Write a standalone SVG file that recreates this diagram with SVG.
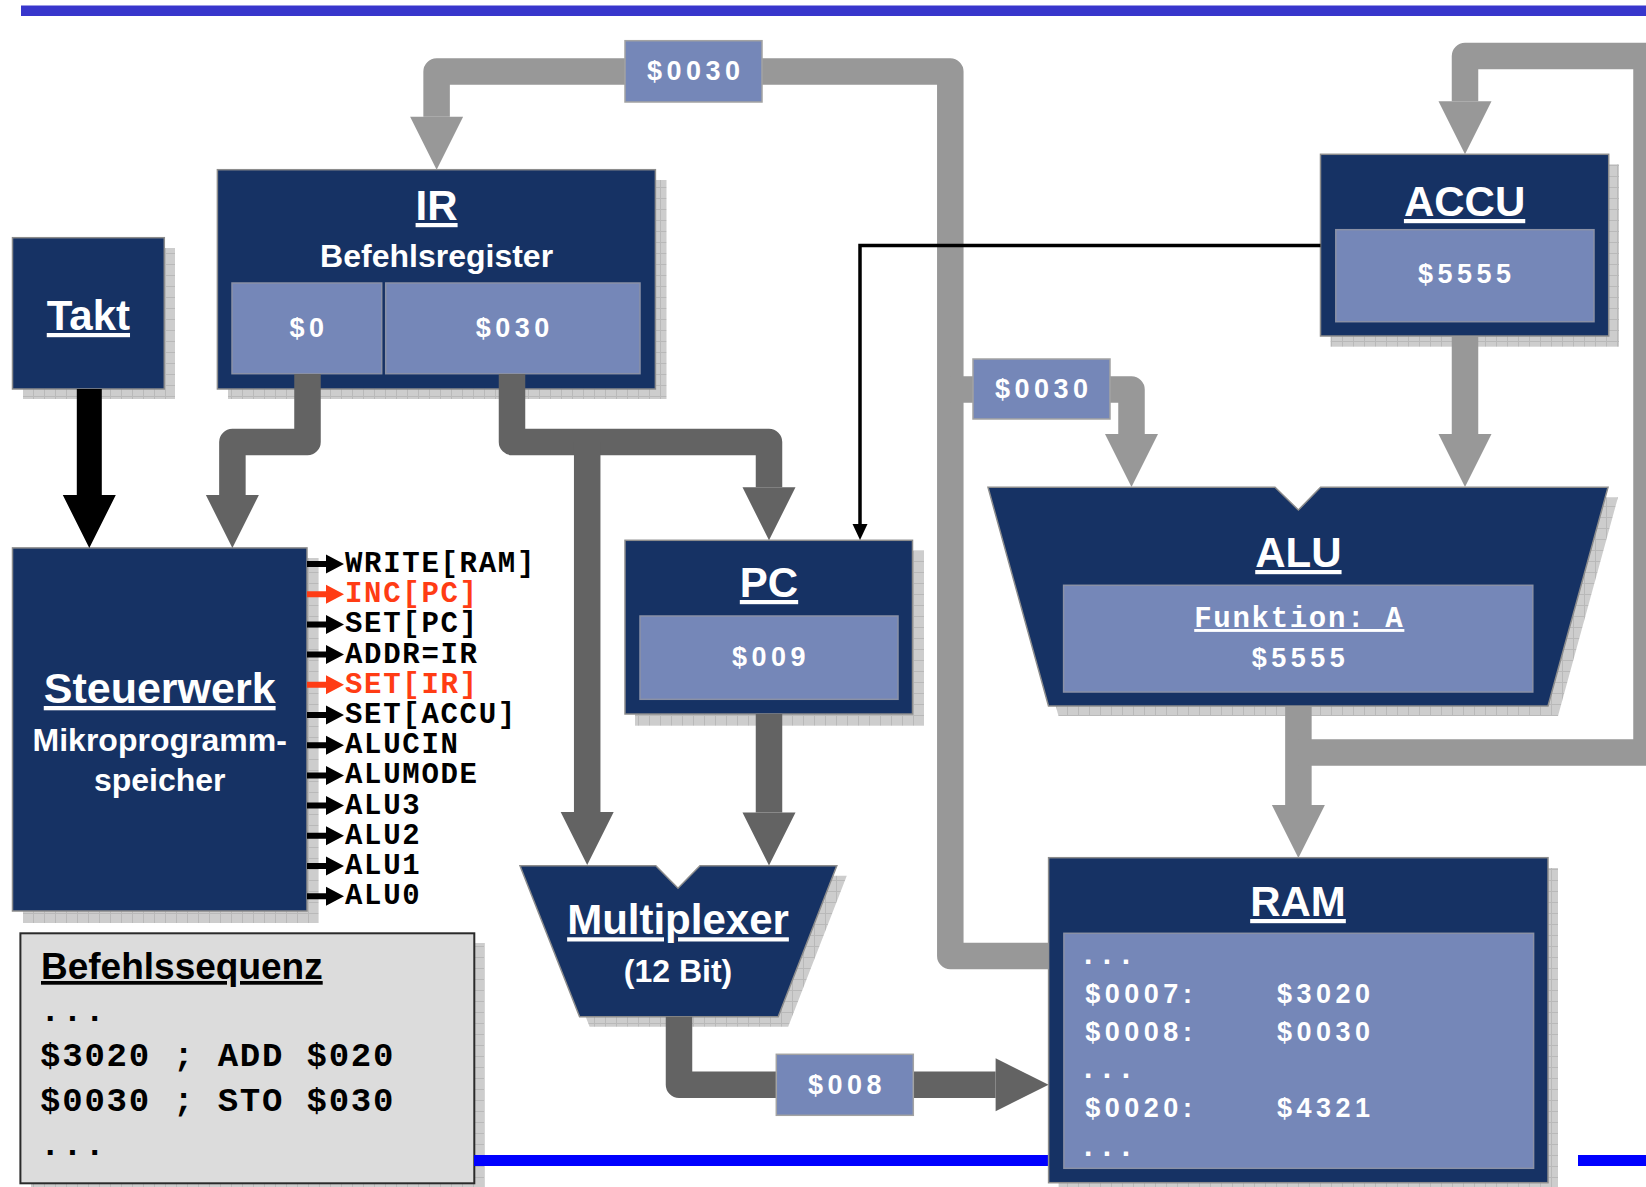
<svg xmlns="http://www.w3.org/2000/svg" width="1646" height="1187" viewBox="0 0 1646 1187">
  <defs>
    <!-- fine grid used for the drop shadows -->
    <pattern id="grid" width="11" height="11" patternUnits="userSpaceOnUse">
      <rect width="11" height="11" fill="#cdcdcd"/>
      <path d="M0,0.5H11M0.5,0V11" stroke="#b9b9b9" stroke-width="1" fill="none"/>
    </pattern>
    <marker id="headDark" markerUnits="userSpaceOnUse" viewBox="0 -27 54 54" refX="0" refY="0" markerWidth="54" markerHeight="54" orient="auto" overflow="visible">
      <path d="M0,-26.5L53,0L0,26.5Z" fill="#636363"/>
    </marker>
    <marker id="headLight" markerUnits="userSpaceOnUse" viewBox="0 -27 54 54" refX="0" refY="0" markerWidth="54" markerHeight="54" orient="auto" overflow="visible">
      <path d="M0,-26.5L53,0L0,26.5Z" fill="#989898"/>
    </marker>
    <marker id="headThin" markerUnits="userSpaceOnUse" viewBox="0 -8 17 16" refX="0" refY="0" markerWidth="17" markerHeight="16" orient="auto" overflow="visible">
      <path d="M0,-7.5L16,0L0,7.5Z" fill="#000"/>
    </marker>
    <!-- control signal arrow -->
    <path id="sig" d="M0,-3H19V-9.5L37,0L19,9.5V3H0Z"/>
  </defs>
  <style>
    .navy { fill:#163264; stroke:#8c8c8c; stroke-width:1.5; }
    .inner { fill:#7587b8; stroke:#8a91a6; stroke-width:1.5; }
    .shadow { fill:url(#grid); }
    .title { font-family:"Liberation Sans", Arial, sans-serif; font-weight:bold; font-size:42px; fill:#fff; text-anchor:middle; text-decoration:underline; }
    .sub { font-family:"Liberation Sans", Arial, sans-serif; font-weight:bold; font-size:32px; fill:#fff; text-anchor:middle; }
    .val { font-family:"Liberation Sans", Arial, sans-serif; font-weight:bold; font-size:27px; fill:#fff; letter-spacing:4.5px; }
    .mid { text-anchor:middle; }
    .dots { font-family:"Liberation Sans", Arial, sans-serif; font-weight:bold; font-size:30px; fill:#fff; letter-spacing:10.5px; }
    .sig { font-family:"Liberation Mono", "Courier New", monospace; font-weight:bold; font-size:29px; letter-spacing:1.7px; }
    .blk { fill:#000; }
    .red { fill:#ff3c14; }
    .code { font-family:"Liberation Mono", "Courier New", monospace; font-weight:bold; font-size:34px; letter-spacing:1.8px; fill:#000; }
    .busD { fill:none; stroke:#636363; stroke-width:26.5; stroke-linejoin:round; }
    .busL { fill:none; stroke:#989898; stroke-width:26.5; stroke-linejoin:round; }
    .lbl { fill:#7587b8; stroke:#a3a3a3; stroke-width:1.5; }
  </style>

  <!-- header rule -->
  <rect x="21" y="5.5" width="1625" height="10.5" fill="#3836cc"/>

  <g id="takt">
    <rect class="shadow" x="23" y="248" width="152" height="151"/>
    <rect class="navy" x="12.5" y="237.7" width="151.8" height="151.3"/>
    <text class="title" x="88.4" y="330">Takt</text>
  </g>

  <g id="ir">
    <rect class="shadow" x="228" y="180" width="438.5" height="219"/>
    <rect class="navy" x="217.4" y="169.7" width="438" height="219.3"/>
    <text class="title" x="436.6" y="220">IR</text>
    <text class="sub" x="436.6" y="267">Befehlsregister</text>
    <rect class="inner" x="232" y="283" width="149.7" height="90.7"/>
    <rect class="inner" x="385.7" y="283" width="254.3" height="90.7"/>
    <text class="val mid" x="309" y="337.3">$0</text>
    <text class="val mid" x="514.8" y="337.3">$030</text>
  </g>

  <g id="steuerwerk">
    <rect class="shadow" x="23" y="558" width="295.6" height="365"/>
    <rect class="navy" x="12.5" y="547.9" width="294.5" height="363.1"/>
    <text class="title" x="159.7" y="703" style="font-size:43px">Steuerwerk</text>
    <text class="sub" x="159.7" y="751.4">Mikroprogramm-</text>
    <text class="sub" x="159.7" y="790.7">speicher</text>
    <!-- control outputs -->
    <use href="#sig" class="blk" x="307" y="564"/>
    <use href="#sig" class="red" x="307" y="594.2"/>
    <use href="#sig" class="blk" x="307" y="624.4"/>
    <use href="#sig" class="blk" x="307" y="654.6"/>
    <use href="#sig" class="red" x="307" y="684.8"/>
    <use href="#sig" class="blk" x="307" y="715"/>
    <use href="#sig" class="blk" x="307" y="745.2"/>
    <use href="#sig" class="blk" x="307" y="775.4"/>
    <use href="#sig" class="blk" x="307" y="805.6"/>
    <use href="#sig" class="blk" x="307" y="835.8"/>
    <use href="#sig" class="blk" x="307" y="866"/>
    <use href="#sig" class="blk" x="307" y="896.2"/>
    <text class="sig blk" x="345" y="572">WRITE[RAM]</text>
    <text class="sig red" x="345" y="602.2">INC[PC]</text>
    <text class="sig blk" x="345" y="632.4">SET[PC]</text>
    <text class="sig blk" x="345" y="662.6">ADDR=IR</text>
    <text class="sig red" x="345" y="692.8">SET[IR]</text>
    <text class="sig blk" x="345" y="723">SET[ACCU]</text>
    <text class="sig blk" x="345" y="753.2">ALUCIN</text>
    <text class="sig blk" x="345" y="783.4">ALUMODE</text>
    <text class="sig blk" x="345" y="813.6">ALU3</text>
    <text class="sig blk" x="345" y="843.8">ALU2</text>
    <text class="sig blk" x="345" y="874">ALU1</text>
    <text class="sig blk" x="345" y="904.2">ALU0</text>
  </g>

  <g id="befehlssequenz">
    <rect class="shadow" x="31" y="943" width="453.6" height="250"/>
    <rect x="20.4" y="933.3" width="453.9" height="250" fill="#dcdcdc" stroke="#2a2a2a" stroke-width="2"/>
    <text x="41" y="979" style="font-family:'Liberation Sans', Arial, sans-serif; font-weight:bold; font-size:37px; fill:#000; text-decoration:underline">Befehlssequenz</text>
    <text class="code" x="40" y="1021">...</text>
    <text class="code" x="40" y="1066">$3020 ; ADD $020</text>
    <text class="code" x="40" y="1111">$0030 ; STO $030</text>
    <text class="code" x="40" y="1155">...</text>
  </g>

  <!-- footer rule -->
  <rect x="474" y="1155" width="580" height="11" fill="#0000ff"/>
  <rect x="1578" y="1155" width="68" height="11" fill="#0000ff"/>

  <g id="pc">
    <rect class="shadow" x="635" y="550.5" width="289" height="175.2"/>
    <rect class="navy" x="625" y="540.3" width="287.5" height="173.7"/>
    <text class="title" x="769" y="597">PC</text>
    <rect class="inner" x="640" y="616" width="258" height="83.3"/>
    <text class="val mid" x="771" y="665.7">$009</text>
  </g>

  <g id="multiplexer">
    <polygon class="shadow" points="530,875.7 665.8,875.7 688,898.3 710,875.7 846.8,875.7 788.2,1026.7 589.6,1026.7"/>
    <polygon class="navy" points="520,865.7 655.8,865.7 678,888.3 700,865.7 836.8,865.7 778.2,1016.7 579.6,1016.7"/>
    <text class="title" x="678" y="934.3">Multiplexer</text>
    <text class="sub" x="678" y="981.7">(12 Bit)</text>
  </g>

  <g id="accu">
    <rect class="shadow" x="1330.5" y="164.3" width="288.5" height="182.4"/>
    <rect class="navy" x="1320.5" y="154.3" width="288.2" height="181.7"/>
    <text class="title" x="1464.6" y="216">ACCU</text>
    <rect class="inner" x="1335.8" y="229.7" width="258.2" height="92"/>
    <text class="val mid" x="1466.8" y="283.3">$5555</text>
  </g>

  <g id="alu">
    <polygon class="shadow" points="998,497.3 1285,497.3 1308.4,520 1330.6,497.3 1618,497.3 1558,716 1058.5,716"/>
    <polygon class="navy" points="988,487.3 1275,487.3 1298.4,510 1320.6,487.3 1608,487.3 1548,706 1048.5,706"/>
    <text class="title" x="1298.4" y="567">ALU</text>
    <rect class="inner" x="1063.6" y="585.3" width="469.2" height="106.7"/>
    <text class="sig mid" x="1299.3" y="627" style="fill:#fff; text-decoration:underline">Funktion: A</text>
    <text class="val mid" x="1300.6" y="666.7">$5555</text>
  </g>

  <g id="ram">
    <rect class="shadow" x="1058.6" y="868" width="499.4" height="330"/>
    <rect class="navy" x="1048.6" y="857.7" width="499.4" height="325"/>
    <text class="title" x="1298" y="916">RAM</text>
    <rect class="inner" x="1063.9" y="933.3" width="469.7" height="235"/>
    <text class="dots" x="1084" y="964">...</text>
    <text class="val" x="1085.3" y="1002.7">$0007:</text>
    <text class="val" x="1277" y="1002.7">$3020</text>
    <text class="val" x="1085.3" y="1040.7">$0008:</text>
    <text class="val" x="1277" y="1040.7">$0030</text>
    <text class="dots" x="1084" y="1078">...</text>
    <text class="val" x="1085.3" y="1116.7">$0020:</text>
    <text class="val" x="1277" y="1116.7">$4321</text>
    <text class="dots" x="1084" y="1155.5">...</text>
  </g>

  <g id="connectors">
    <!-- clock into control unit -->
    <path d="M76.8,389H101.8V495H115.8L89.3,548L62.8,495H76.8Z" fill="#000"/>
    <!-- instruction register outputs -->
    <path class="busD" d="M307.5,374V442H232.4V495" marker-end="url(#headDark)"/>
    <path class="busD" d="M512,374V442H769V487.3" marker-end="url(#headDark)"/>
    <path class="busD" d="M587.2,442V812" marker-end="url(#headDark)"/>
    <!-- program counter into multiplexer -->
    <path class="busD" d="M769,714V812.5" marker-end="url(#headDark)"/>
    <!-- multiplexer address into RAM -->
    <path class="busD" d="M679,1016.7V1084.7H995.6" marker-end="url(#headDark)"/>
    <!-- RAM data bus to IR and ALU -->
    <path class="busL" d="M1048.6,956H950.3V71.5H436.6V116.7" marker-end="url(#headLight)"/>
    <path class="busL" d="M950.3,389.5H1131.5V434" marker-end="url(#headLight)"/>
    <!-- accumulator into ALU -->
    <path class="busL" d="M1465,336V434" marker-end="url(#headLight)"/>
    <!-- ALU result to RAM and back to accumulator -->
    <path class="busL" d="M1298.4,706V805" marker-end="url(#headLight)"/>
    <path class="busL" d="M1298.4,752.5H1646.5V56H1465V101.3" marker-end="url(#headLight)"/>
    <!-- accumulator to program counter -->
    <path d="M1320.5,245.5H860V524" fill="none" stroke="#000" stroke-width="3.5" marker-end="url(#headThin)"/>
    <!-- bus value tags -->
    <rect class="lbl" x="625" y="40.7" width="137" height="61.3"/>
    <text class="val mid" x="695.8" y="80">$0030</text>
    <rect class="lbl" x="973" y="359" width="137" height="60"/>
    <text class="val mid" x="1043.8" y="398">$0030</text>
    <rect class="lbl" x="776.3" y="1054.3" width="137" height="61"/>
    <text class="val mid" x="847" y="1094">$008</text>
  </g>
</svg>
